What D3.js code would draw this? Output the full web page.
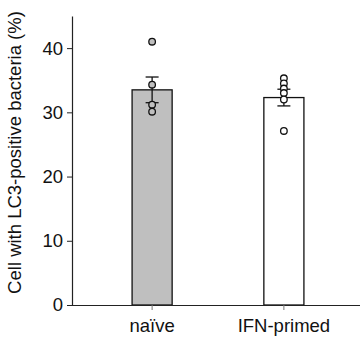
<!DOCTYPE html>
<html>
<head>
<meta charset="utf-8">
<script src="https://cdn.jsdelivr.net/npm/d3@7"></script>
<style>
  body { margin: 0; background: #fff; }
  svg { display: block; font-family: "Liberation Sans", Arial, sans-serif; }
</style>
</head>
<body>
<div id="chart"></div>
<script>
const categories = ['naïve', 'IFN-primed'];
const means = [33.5, 32.3];
const sems = [2.0, 1.3];
const points = [
  [41.0, 34.3, 31.2, 30.1],
  [35.3, 34.5, 33.7, 33.0, 32.0, 27.1]
];
const fills = ['#bfbfbf', '#ffffff'];
const yTicks = [0, 10, 20, 30, 40];

const W = 363, H = 338;
const margin = { top: 16, right: 3, bottom: 33, left: 72 };
const width = W - margin.left - margin.right;
const height = H - margin.top - margin.bottom;
const fs = 18.5;

const svg = d3.select('#chart').append('svg')
  .attr('width', W).attr('height', H)
  .append('g')
  .attr('transform', `translate(${margin.left},${margin.top})`);

const x = d3.scaleBand().domain(categories).range([0, 292]).paddingInner(0.696).paddingOuter(0.456);
const y = d3.scaleLinear().domain([0, 45]).range([height, 0]);

// bars
svg.selectAll('rect.bar')
  .data(categories)
  .join('rect')
  .attr('class', 'bar')
  .attr('x', d => x(d))
  .attr('y', (d, i) => y(means[i]))
  .attr('width', x.bandwidth())
  .attr('height', (d, i) => height - y(means[i]))
  .attr('fill', (d, i) => fills[i])
  .attr('stroke', '#111')
  .attr('stroke-width', 1.3);

// error bars + individual points
const cap = 6.5;
categories.forEach((c, i) => {
  const cx = x(c) + x.bandwidth() / 2;
  const g = svg.append('g').attr('stroke', '#111').attr('stroke-width', 1.3);
  g.append('line').attr('x1', cx).attr('x2', cx).attr('y1', y(means[i] - sems[i])).attr('y2', y(means[i] + sems[i]));
  [means[i] - sems[i], means[i] + sems[i]].forEach(v => {
    g.append('line').attr('x1', cx - cap).attr('x2', cx + cap).attr('y1', y(v)).attr('y2', y(v));
  });
  svg.append('g').selectAll('circle')
    .data(points[i])
    .join('circle')
    .attr('cx', cx)
    .attr('cy', d => y(d))
    .attr('r', 3.3)
    .attr('fill', fills[i])
    .attr('stroke', '#111')
    .attr('stroke-width', 1.3);
});

// y axis
const yAxis = svg.append('g')
  .call(d3.axisLeft(y).tickValues(yTicks).tickSize(5).tickSizeOuter(0).tickFormat(d3.format('d')));
yAxis.select('.domain').attr('stroke', '#222').attr('stroke-width', 1.2);
yAxis.selectAll('.tick line').attr('stroke', '#222');
yAxis.selectAll('.tick text').attr('font-size', fs).attr('fill', '#111').attr('x', -9);

// x axis
const xAxis = svg.append('g')
  .attr('transform', `translate(0,${height})`)
  .call(d3.axisBottom(x).tickSize(5).tickSizeOuter(0));
xAxis.select('.domain').attr('stroke', '#222').attr('stroke-width', 1.2).attr('d', `M-5,0.5H${width}`);
xAxis.selectAll('.tick line').attr('stroke', '#777');
xAxis.selectAll('.tick text').attr('font-size', fs).attr('fill', '#111').attr('dy', '1.05em');

// y label
svg.append('text')
  .attr('transform', `translate(${-51},${height / 2 - 8}) rotate(-90)`)
  .attr('text-anchor', 'middle')
  .attr('font-size', fs)
  .attr('fill', '#111')
  .text('Cell with LC3-positive bacteria (%)');
</script>
</body>
</html>
